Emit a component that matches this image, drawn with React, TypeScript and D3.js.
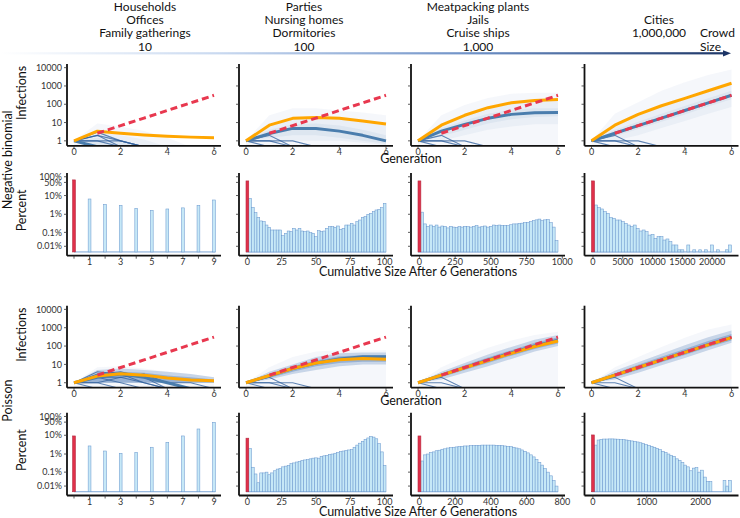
import React from "react";
import * as d3 from "d3";

const FONT = "Lato, 'Open Sans', sans-serif";

// ---------- header ----------
const headerLines = [
  ["Households", "Offices", "Family gatherings", "10"],
  ["Parties", "Nursing homes", "Dormitories", "100"],
  ["Meatpacking plants", "Jails", "Cruise ships", "1,000"],
  ["", "Cities", "1,000,000", ""],
];
const headerX = [145, 304, 478, 659];

// ---------- axes ----------
const genTicks = [0, 2, 4, 6];
const infTicks = [1, 10, 100, 1000, 10000];
const pctTicks = [100, 50, 10, 1, 0.1, 0.01];
const pctLabels = ["100%", "50%", "10%", "1%", "0.1%", "0.01%"];

// ---------- expected growth (red dashed), generations 1..6 ----------
const expectedGen = [1, 2, 3, 4, 5, 6];
const expectedVals = [2.6, 6.8, 17.6, 45.7, 118.8, 308.9];

// ---------- Negative binomial: trajectories ----------
const nbOrange = [
  [1, 3.4, 2.6, 2.1, 1.8, 1.6, 1.5],
  [1, 7.2, 17, 19, 17, 12, 8.3],
  [1, 7.2, 25, 65, 120, 160, 180],
  [1, 7.2, 28, 83, 210, 550, 1400],
];
const nbBlue = [
  [1, 0, 0, 0, 0, 0, 0],
  [1, 2.5, 4.8, 4.8, 3.4, 2, 1],
  [1, 3.4, 8, 17, 28, 34, 36],
  [1, 2.6, 6.8, 17.6, 45.7, 118.8, 308.9],
];
const nbBandOuter = [
  [1, 9, 6, 3.5, 1.5, 0, 0],
  [1, 25, 60, 60, 45, 35, 25],
  [1, 25, 90, 220, 380, 420, 420],
  [1, 30, 130, 550, 1600, 4000, 8000],
];
const nbBandInnerLow = [
  [1, 0, 0, 0, 0, 0, 0],
  [1, 1, 1, 1, 1, 0.8, 0.6],
  [1, 1, 2, 4, 6, 8, 8],
  [1, 1, 2, 5, 12, 30, 70],
];
const nbBandInnerHigh = [
  [1, 3, 2, 1.2, 0, 0, 0],
  [1, 8, 15, 18, 15, 10, 7],
  [1, 8, 25, 60, 110, 150, 170],
  [1, 8, 28, 85, 230, 600, 1500],
];
const nbCoreLow = [
  [1, 0, 0, 0, 0, 0, 0],
  [1, 1.5, 2, 2, 1.5, 1, 0.7],
  [1, 1.8, 4, 9, 15, 20, 22],
  [1, 1.8, 4.5, 11, 28, 75, 190],
];
const nbCoreHigh = [
  [1, 1.5, 1, 0, 0, 0, 0],
  [1, 4, 8, 9, 7, 4, 2],
  [1, 5, 13, 30, 50, 60, 60],
  [1, 4, 11, 30, 80, 210, 550],
];
const nbExtinct = [
  [[1, 0], [1, 1, 0], [1, 2, 0], [1, 1, 1, 0], [1, 2, 1, 0], [1, 3, 1, 0]],
  [[1, 0], [1, 1, 0], [1, 2, 0], [1, 1, 1, 0]],
  [[1, 0], [1, 1, 0], [1, 2, 0], [1, 1, 1, 0]],
  [[1, 0], [1, 1, 0], [1, 2, 0], [1, 1, 1, 0]],
];

// ---------- Poisson: trajectories ----------
const poisOrange = [
  [1, 2.3, 3.1, 2.6, 1.8, 1.4, 1.3],
  [1, 2.5, 6, 12, 18, 21, 19],
  [1, 2.6, 6.6, 16, 40, 95, 190],
  [1, 2.6, 6.8, 17.6, 45, 115, 290],
];
const poisBlue = [
  [1, 2, 3, 2, 1, 0, 0],
  [1, 2.4, 6, 12, 20, 26, 26],
  [1, 2.6, 6.7, 17, 42, 100, 210],
  [1, 2.6, 6.8, 17.6, 45.7, 118, 300],
];
const poisBandOuter = [
  [1, 7, 8, 6, 4, 3, 2],
  [1, 7, 25, 50, 60, 60, 60],
  [1, 7, 25, 80, 200, 400, 600],
  [1, 7, 25, 90, 280, 800, 1500],
];
const poisBandInnerLow = [
  [1, 1, 1, 1, 1, 1, 1],
  [1, 1.5, 3, 5, 8, 10, 10],
  [1, 1.5, 3.5, 8, 20, 50, 100],
  [1, 1.5, 3.5, 9, 22, 60, 150],
];
const poisBandInnerHigh = [
  [1, 5, 6, 5, 4, 3, 2],
  [1, 4, 10, 25, 40, 45, 45],
  [1, 4, 12, 35, 90, 220, 400],
  [1, 4.5, 13, 38, 110, 300, 700],
];
const poisCoreLow = [
  [1, 1, 1, 1, 1, 1, 1],
  [1, 1.8, 4, 8, 12, 14, 14],
  [1, 2, 5, 12, 30, 70, 140],
  [1, 2, 5, 13, 33, 85, 200],
];
const poisCoreHigh = [
  [1, 3, 4, 3.5, 2.5, 2, 1.5],
  [1, 3, 8, 17, 28, 32, 32],
  [1, 3.2, 9, 24, 60, 150, 300],
  [1, 3.3, 9.5, 26, 70, 190, 450],
];
const poisExtinct = [
  [[1, 0], [1, 1, 0], [1, 2, 1, 0], [1, 2, 3, 2, 1, 0], [1, 3, 4, 2, 0], [1, 2, 2, 3, 1, 1, 0], [1, 1, 2, 1, 0], [1, 4, 3, 1, 0]],
  [[1, 0], [1, 1, 0], [1, 2, 0], [1, 1, 1, 0]],
  [[1, 0], [1, 1, 0], [1, 2, 0]],
  [[1, 0], [1, 1, 0], [1, 2, 0]],
];

// ---------- histograms (percent of simulations) ----------
const nbRed = [68, 60, 60, 60];
const poisRed = [9.2, 7.0, 9.2, 10.4];
const nbBinWidth = [1, 2, 20, 500];
const poisBinWidth = [1, 2, 16, 52];

const nbHist10 = [6.55, 3.4, 3.0, 2.08, 1.63, 1.92, 2.2, 3.0, 5.8];
const nbHist100 = [
  7.1, 2.35, 1.22, 0.685, 0.436, 0.4, 0.26, 0.194, 0.137, 0.137,
  0.137, 0.137, 0.063, 0.088, 0.12, 0.11, 0.17, 0.137, 0.17, 0.12,
  0.11, 0.12, 0.096, 0.088, 0.055, 0.125, 0.11, 0.12, 0.17, 0.21,
  0.21, 0.194, 0.23, 0.15, 0.17, 0.26, 0.26, 0.323, 0.26, 0.4,
  0.49, 0.685, 0.74, 0.99, 1.12, 1.38, 1.7, 1.84, 2.26, 3.85,
];
const nbHist1000 = [
  1.3, 0.3, 0.22, 0.26, 0.22, 0.26, 0.2, 0.23, 0.22, 0.18,
  0.22, 0.2, 0.19, 0.21, 0.2, 0.22, 0.21, 0.2, 0.22, 0.24,
  0.2, 0.21, 0.23, 0.2, 0.22, 0.26, 0.24, 0.26, 0.25, 0.25,
  0.24, 0.27, 0.3, 0.3, 0.32, 0.33, 0.35, 0.36, 0.4, 0.45,
  0.5, 0.55, 0.45, 0.5, 0.52, 0.35, 0.2, 0.03,
];
const nbHistCity = [
  3.13, 2.26, 1.92, 1.38, 1.12, 0.66, 0.61, 0.49, 0.49, 0.4,
  0.32, 0.26, 0.21, 0.26, 0.17, 0.12, 0.137, 0.11, 0.069, 0.076,
  0.043, 0.055, 0.055, 0.033, 0.039, 0.025, 0.0135, 0.0135, 0.003, 0.003,
  0, 0.0135, 0, 0.003, 0, 0.003, 0, 0.003, 0, 0.0135,
  0, 0.003, 0, 0, 0.003, 0.0135,
];
const poisHist10 = [2.7, 1.45, 1.09, 1.23, 2.3, 4.22, 9.2, 21.6, 49];
const poisHist100 = [
  2.0, 0.19, 0.078, 0.02, 0.09, 0.09, 0.1, 0.07, 0.09, 0.12,
  0.15, 0.16, 0.2, 0.22, 0.24, 0.3, 0.33, 0.37, 0.4, 0.45,
  0.48, 0.5, 0.55, 0.6, 0.62, 0.6, 0.75, 0.8, 0.85, 0.95,
  1.0, 1.1, 1.2, 1.35, 1.45, 1.55, 1.65, 1.7, 2.3, 3.0,
  3.8, 4.8, 6.0, 7.2, 8.6, 8.0, 6.5, 3.6, 1.3, 0.24,
];
const poisHist1000 = [
  0.42, 0.9, 1.0, 1.2, 1.3, 1.5, 1.6, 1.8, 1.9, 2.1,
  2.2, 2.3, 2.4, 2.5, 2.6, 2.7, 2.7, 2.8, 2.8, 2.9,
  2.9, 3.0, 3.0, 3.0, 3.0, 3.0, 2.9, 2.9, 2.8, 2.7,
  2.6, 2.5, 2.3, 2.1, 1.9, 1.65, 1.4, 1.15, 0.9, 0.7,
  0.5, 0.35, 0.25, 0.16, 0.1, 0.06, 0.03, 0.01,
];
const poisHistCity = [
  3.0, 5.6, 6.1, 6.3, 6.3, 6.4, 6.4, 6.3, 6.2, 6.0,
  5.8, 5.6, 5.3, 5.0, 4.7, 4.4, 4.0, 3.6, 3.2, 2.9,
  2.6, 2.3, 2.0, 1.7, 1.4, 1.2, 1.0, 0.85, 0.75, 0.55,
  0.45, 0.35, 0.25, 0.2, 0.12, 0.17, 0.18, 0.1, 0.13, 0.05,
  0.025, 0.025, 0, 0, 0, 0, 0.03, 0.01, 0.03,
];

const nbHists = [nbHist10, nbHist100, nbHist1000, nbHistCity];
const poisHists = [poisHist10, poisHist100, poisHist1000, poisHistCity];

const nbXTicks = [
  [1, 3, 5, 7, 9],
  [0, 25, 50, 75, 100],
  [0, 250, 500, 750, 1000],
  [0, 5000, 10000, 15000, 20000],
];
const poisXTicks = [
  [1, 3, 5, 7, 9],
  [0, 25, 50, 75, 100],
  [0, 200, 400, 600, 800],
  [0, 1000, 2000],
];

// ---------- layout ----------
const COLS = [67, 239, 411, 584.5];
const PW = 154;
const LINE_ROWS = [
  [64, 145.8],
  [305.7, 387.7],
];
const HIST_ROWS = [
  [173, 255.7],
  [412.7, 495.5],
];

const C = {
  orange: "#FFA600",
  red: "#E8384F",
  blue: "#4A7DAD",
  band: "#6d93c6",
  inner: "#3f6fae",
  dark: "#2d5d9b",
  barFill: "#c6e8f7",
  barStroke: "#6e9bd0",
  redFill: "#E0304A",
  redStroke: "#b52a40",
  axis: "#111",
  tick: "#333",
};

function LinePanel({ id, x0, top, bottom, orange, blue, bandOuter, innerLow, innerHigh, coreLow, coreHigh, extinct, showY, innerOpacity, coreOpacity }) {
  const x = d3.scaleLinear().domain([-0.3, 6.3]).range([x0, x0 + PW]);
  const y = d3.scaleLog().domain([Math.pow(10, -0.27), Math.pow(10, 4.2)]).range([bottom, top]);
  const yv = (v) => (v > 0 ? y(v) : bottom + 1);
  const line = d3.line().x((_, i) => x(i)).y((d) => yv(d));
  const area = d3.area().x((_, i) => x(i)).y0(bottom + 1).y1((d) => yv(d));
  const bandArea = (lo) =>
    d3
      .area()
      .x((_, i) => x(i))
      .y0((_, i) => yv(lo[i]))
      .y1((d) => yv(d));
  const expLine = d3.line().x((d) => x(d[0])).y((d) => y(d[1]));
  const expPts = expectedGen.map((g, i) => [g, expectedVals[i]]);
  return (
    <g>
      <defs>
        <clipPath id={id}>
          <rect x={x0} y={top} width={PW} height={bottom - top} />
        </clipPath>
      </defs>
      <g clipPath={`url(#${id})`}>
        <path d={area(bandOuter)} fill={C.band} fillOpacity={0.07} />
        <path d={bandArea(innerLow)(innerHigh)} fill={C.inner} fillOpacity={innerOpacity} />
        <path d={bandArea(coreLow)(coreHigh)} fill={C.inner} fillOpacity={coreOpacity} />
        {extinct.map((p, i) => (
          <path key={i} d={line(p)} fill="none" stroke={C.dark} strokeWidth={1.1} strokeOpacity={0.75} />
        ))}
        <path d={line(blue)} fill="none" stroke={C.blue} strokeWidth={3} strokeLinejoin="round" />
        <path d={line(orange)} fill="none" stroke={C.orange} strokeWidth={3} strokeLinejoin="round" />
        <path d={expLine(expPts)} fill="none" stroke={C.red} strokeWidth={3} strokeDasharray="7,4" />
      </g>
      <line x1={x0} x2={x0} y1={top} y2={bottom} stroke={C.axis} strokeWidth={1.8} />
      <line x1={x0} x2={x0 + PW} y1={bottom} y2={bottom} stroke={C.axis} strokeWidth={1.8} />
      {infTicks.map((t) => (
        <g key={t}>
          <line x1={x0 - 3} x2={x0} y1={y(t)} y2={y(t)} stroke={C.tick} strokeWidth={0.8} />
          {showY && (
            <text x={x0 - 5} y={y(t)} dy="0.35em" textAnchor="end" fontSize={9} fill={C.tick}>
              {t}
            </text>
          )}
        </g>
      ))}
      {genTicks.map((t) => (
        <g key={t}>
          <line x1={x(t)} x2={x(t)} y1={bottom} y2={bottom + 3} stroke={C.tick} strokeWidth={0.8} />
          <text x={x(t)} y={bottom + 9} textAnchor="middle" fontSize={9} fill={C.tick}>
            {t}
          </text>
        </g>
      ))}
    </g>
  );
}

function HistPanel({ x0, top, bottom, red, vals, binW, discrete, ticks, showY }) {
  const y = d3.scaleLinear().domain([-2.2, 2.2]).range([bottom, top]);
  const yp = (p) => y(Math.log10(p + 0.01));
  const base = yp(0);
  let x;
  let bars;
  let redBar;
  let baseStart;
  let baseEnd;
  if (discrete) {
    x = d3.scaleLinear().domain([-0.45, 9.45]).range([x0, x0 + PW]);
    const w = 2.8;
    redBar = { x: x(0) - w / 2, w };
    bars = vals.map((v, i) => ({ x: x(i + 1) - w / 2, w, v }));
    baseStart = x(0);
    baseEnd = x(vals.length) + w / 2;
  } else {
    const lo = -binW / 2;
    const hi = binW / 2 + vals.length * binW;
    const pad = (hi - lo) * 0.05;
    x = d3.scaleLinear().domain([lo - pad, hi + pad]).range([x0, x0 + PW]);
    redBar = { x: x(-binW / 2), w: x(binW / 2) - x(-binW / 2) };
    bars = vals.map((v, i) => {
      const a = binW / 2 + i * binW;
      return { x: x(a), w: x(a + binW) - x(a), v };
    });
    baseStart = x(lo);
    baseEnd = x(hi);
  }
  const xTickAll = discrete ? d3.range(0, 10) : ticks;
  return (
    <g>
      <line x1={baseStart} x2={baseEnd} y1={base} y2={base} stroke={C.barStroke} strokeWidth={0.9} />
      {bars.map((b, i) =>
        b.v > 0 ? (
          <rect
            key={i}
            x={b.x}
            y={yp(b.v)}
            width={b.w}
            height={base - yp(b.v)}
            fill={C.barFill}
            stroke={C.barStroke}
            strokeWidth={0.55}
          />
        ) : null
      )}
      <rect
        x={redBar.x}
        y={yp(red)}
        width={redBar.w}
        height={base - yp(red)}
        fill={C.redFill}
        stroke={C.redStroke}
        strokeWidth={0.6}
      />
      <line x1={x0} x2={x0} y1={top} y2={bottom} stroke={C.axis} strokeWidth={1.8} />
      <line x1={x0} x2={x0 + PW} y1={bottom} y2={bottom} stroke={C.axis} strokeWidth={1.8} />
      {pctTicks.map((t, i) => (
        <g key={t}>
          <line x1={x0 - 3} x2={x0} y1={yp(t)} y2={yp(t)} stroke={C.tick} strokeWidth={0.8} />
          {showY && (
            <text x={x0 - 5} y={yp(t)} dy="0.35em" textAnchor="end" fontSize={9} fill={C.tick}>
              {pctLabels[i]}
            </text>
          )}
        </g>
      ))}
      {xTickAll.map((t) => (
        <line key={t} x1={x(t)} x2={x(t)} y1={bottom} y2={bottom + 3} stroke={C.tick} strokeWidth={0.8} />
      ))}
      {ticks.map((t) => (
        <text key={"l" + t} x={x(t)} y={bottom + 9} textAnchor="middle" fontSize={9} fill={C.tick}>
          {t}
        </text>
      ))}
    </g>
  );
}

export default function App() {
  const rows = [
    { name: "Negative binomial", orange: nbOrange, blue: nbBlue, bo: nbBandOuter, bl: nbBandInnerLow, bh: nbBandInnerHigh, cl: nbCoreLow, ch: nbCoreHigh, ext: nbExtinct, red: nbRed, hists: nbHists, bw: nbBinWidth, xt: nbXTicks, io: 0.06, co: 0.07 },
    { name: "Poisson", orange: poisOrange, blue: poisBlue, bo: poisBandOuter, bl: poisBandInnerLow, bh: poisBandInnerHigh, cl: poisCoreLow, ch: poisCoreHigh, ext: poisExtinct, red: poisRed, hists: poisHists, bw: poisBinWidth, xt: poisXTicks, io: 0.25, co: 0.35 },
  ];
  return (
    <svg width={740} height={518} style={{ position: "absolute", left: 0, top: 0, fontFamily: FONT }}>
      <rect width={740} height={518} fill="#fff" />
      <defs>
        <linearGradient id="hdrGrad" gradientUnits="userSpaceOnUse" x1={0} x2={730} y1={0} y2={0}>
          <stop offset="0" stopColor="#ffffff" />
          <stop offset="0.3" stopColor="#c9d9f0" />
          <stop offset="0.65" stopColor="#6d90c6" />
          <stop offset="1" stopColor="#1c3566" />
        </linearGradient>
      </defs>
      {headerLines.map((lines, c) =>
        lines.map((t, j) =>
          t ? (
            <text key={c + "-" + j} x={headerX[c]} y={7 + j * 13.1} dy="0.35em" textAnchor="middle" fontSize={12} fill="#111">
              {t}
            </text>
          ) : null
        )
      )}
      <text x={700} y={33.2} dy="0.35em" fontSize={12} fill="#111">Crowd</text>
      <text x={700} y={46.3} dy="0.35em" fontSize={12} fill="#111">Size</text>
      <rect x={0} y={52.2} width={725} height={2.2} fill="url(#hdrGrad)" />
      <polygon points="723,50.2 731,53.3 723,56.4" fill="#1c3566" />

      {rows.map((r, ri) => {
        const [lt, lb] = LINE_ROWS[ri];
        const [ht, hb] = HIST_ROWS[ri];
        return (
          <g key={ri}>
            {COLS.map((cx, ci) => (
              <LinePanel
                key={"l" + ci}
                id={`clip-${ri}-${ci}`}
                x0={cx}
                top={lt}
                bottom={lb}
                orange={r.orange[ci]}
                blue={r.blue[ci]}
                bandOuter={r.bo[ci]}
                innerLow={r.bl[ci]}
                innerHigh={r.bh[ci]}
                coreLow={r.cl[ci]}
                coreHigh={r.ch[ci]}
                extinct={r.ext[ci]}
                showY={ci === 0}
                innerOpacity={r.io}
                coreOpacity={r.co}
              />
            ))}
            {COLS.map((cx, ci) => (
              <HistPanel
                key={"h" + ci}
                x0={cx}
                top={ht}
                bottom={hb}
                red={r.red[ci]}
                vals={r.hists[ci]}
                binW={r.bw[ci]}
                discrete={ci === 0}
                ticks={r.xt[ci]}
                showY={ci === 0}
              />
            ))}
            <text x={411} y={lb + 13.2} dy="0.35em" textAnchor="middle" fontSize={12.5} fill="#111">Generation</text>
            <text x={418} y={hb + 16} dy="0.35em" textAnchor="middle" fontSize={12.5} fill="#111">Cumulative Size After 6 Generations</text>
            <text transform={`translate(22,${(lt + lb) / 2 - 12}) rotate(-90)`} dy="0.35em" textAnchor="middle" fontSize={12.5} fill="#111">Infections</text>
            <text transform={`translate(22,${(ht + hb) / 2 - 4}) rotate(-90)`} dy="0.35em" textAnchor="middle" fontSize={12.5} fill="#111">Percent</text>
            <text transform={`translate(7.5,${(lt + hb) / 2}) rotate(-90)`} dy="0.35em" textAnchor="middle" fontSize={12.5} fill="#111">{r.name}</text>
          </g>
        );
      })}
    </svg>
  );
}
